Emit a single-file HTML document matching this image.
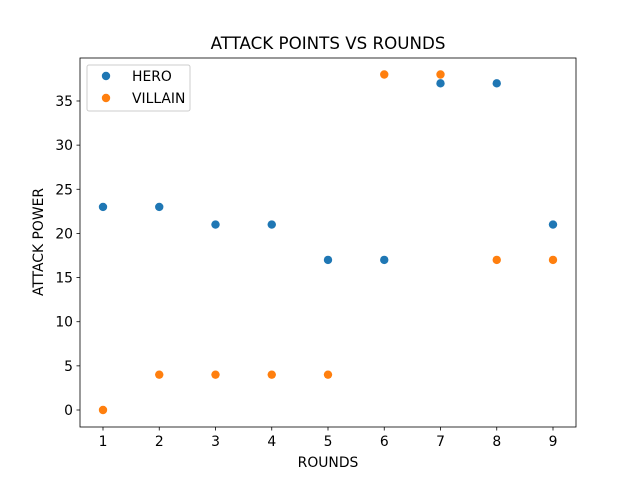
<!DOCTYPE html>
<html><head><meta charset="utf-8"><style>
body{margin:0;background:#fff;font-family:"Liberation Sans","DejaVu Sans",sans-serif;}
svg text{font-family:"DejaVu Sans","Liberation Sans",sans-serif;}
</style></head><body>
<svg id="chart" width="640" height="480" xmlns="http://www.w3.org/2000/svg">
<rect width="640" height="480" fill="#fff"/>
<text x="328" y="49" font-size="16.7" text-anchor="middle">ATTACK POINTS VS ROUNDS</text>
<g id="ticks"></g>
<g id="marks"></g>
<rect x="80" y="58" width="496" height="369" fill="none" stroke="#000" stroke-width="0.8"/>
<text x="328" y="467" font-size="13.9" text-anchor="middle">ROUNDS</text>
<text transform="translate(43,242) rotate(-90)" font-size="13.9" text-anchor="middle">ATTACK POWER</text>
<g>
<rect x="87" y="65" width="103" height="46" rx="2" fill="#fff" stroke="#ccc" stroke-width="1"/>
<circle cx="106" cy="76" r="4.2" fill="#1f77b4"/>
<text x="132" y="81" font-size="13.9">HERO</text>
<circle cx="106" cy="98" r="4.2" fill="#ff7f0e"/>
<text x="132" y="103" font-size="13.9">VILLAIN</text>
</g>
</svg>
<script>
const rounds=[1,2,3,4,5,6,7,8,9];
const hero=[23,23,21,21,17,17,37,37,21];
const villain=[0,4,4,4,4,38,38,17,17];
const xTicks=[1,2,3,4,5,6,7,8,9];
const yTicks=[0,5,10,15,20,25,30,35];
const NS="http://www.w3.org/2000/svg";
const xs=v=>103+(v-1)*56.25;
const ys=v=>410-v*8.829;
const tg=document.getElementById('ticks'),mg=document.getElementById('marks');
function mk(tag,a,p){const e=document.createElementNS(NS,tag);for(const k in a)e.setAttribute(k,a[k]);p.appendChild(e);return e;}
xTicks.forEach(t=>{
 const l=mk('line',{x1:xs(t),x2:xs(t),y1:427,y2:430.5,stroke:'#000','stroke-width':0.8},tg);
 
 
 const tx=mk('text',{x:xs(t),y:446,'font-size':13.9,'text-anchor':'middle'},tg);tx.textContent=t;
 
 
});
yTicks.forEach(t=>{
 const l=mk('line',{x1:76.5,x2:80,y1:ys(t),y2:ys(t),stroke:'#000','stroke-width':0.8},tg);
 
 
 const tx=mk('text',{x:73,y:ys(t)+5,'font-size':13.9,'text-anchor':'end'},tg);tx.textContent=t;
 
 
});
rounds.forEach((r,i)=>{
 const c=mk('circle',{cx:xs(r),cy:ys(hero[i]),r:4.2,fill:'#1f77b4'},mg);
 
 
});
rounds.forEach((r,i)=>{
 const c=mk('circle',{cx:xs(r),cy:ys(villain[i]),r:4.2,fill:'#ff7f0e'},mg);
 
 
});
</script>
</body></html>
